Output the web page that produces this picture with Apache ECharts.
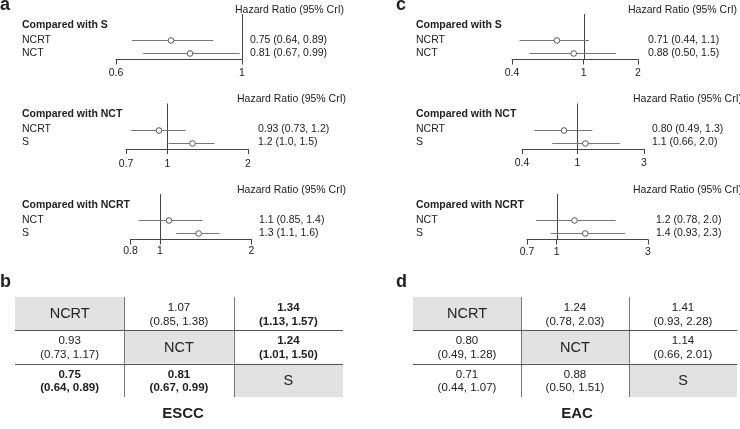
<!DOCTYPE html>
<html><head><meta charset="utf-8">
<script src="https://cdn.jsdelivr.net/npm/echarts@6/dist/echarts.min.js"></script>
<style>html,body{margin:0;padding:0;background:#fff}#c{width:740px;height:429px}</style>
</head><body><div id="c"></div>
<script>
// ---------- data ----------
const treatments = ['NCRT', 'NCT', 'S'];
// cell[ref][trt] = hazard ratio of trt compared with ref
const esccHR   = [[null, 1.07, 1.34], [0.93, null, 1.24], [0.75, 0.81, null]];
const esccLow  = [[null, 0.85, 1.13], [0.73, null, 1.01], [0.64, 0.67, null]];
const esccHigh = [[null, 1.38, 1.57], [1.17, null, 1.50], [0.89, 0.99, null]];
const eacHR    = [[null, 1.24, 1.41], [0.80, null, 1.14], [0.71, 0.88, null]];
const eacLow   = [[null, 0.78, 0.93], [0.49, null, 0.66], [0.44, 0.50, null]];
const eacHigh  = [[null, 2.03, 2.28], [1.28, null, 2.01], [1.07, 1.51, null]];
const references = ['S', 'NCT', 'NCRT'];
const esccTicks = [[0.6, 1], [0.7, 1, 2], [0.8, 1, 2]];
const eacTicks  = [[0.4, 1, 2], [0.4, 1, 3], [0.7, 1, 3]];
const axisTitle = 'Hazard Ratio (95% CrI)';
const tableTitles = ['ESCC', 'EAC'];
const panelLetters = [['a', 'b'], ['c', 'd']];

// ---------- layout ----------
const FONT = '"Liberation Sans", Arial, Helvetica, sans-serif';
const TXT = '#222';
const rowY = [40, 129.5, 220];
const ROW = 13;
const layouts = [
  { labelX: 22, letterX: 0, panels: [
      { l: 116, r: 242, val: 250, title: 235, lm: 8 },
      { l: 126, r: 248, val: 258, title: 237, lm: 10 },
      { l: 130.5, r: 251.5, val: 259, title: 237, lm: 6.5 }],
    table: { left: 15, width: 328, cx: 183 } },
  { labelX: 416, letterX: 396, panels: [
      { l: 512, r: 638, val: 648, title: 628, lm: 8 },
      { l: 522, r: 644, val: 652, title: 633, lm: 9 },
      { l: 527, r: 648, val: 656, title: 633, lm: 7 }],
    table: { left: 413, width: 324, cx: 577 } }
];
const sets = [
  { HR: esccHR, lo: esccLow, hi: esccHigh, ticks: esccTicks },
  { HR: eacHR, lo: eacLow, hi: eacHigh, ticks: eacTicks }
];

const p2 = v => v.toPrecision(2);
const option = { animation: false, textStyle: { fontFamily: FONT },
  grid: [], xAxis: [], yAxis: [], series: [], graphic: [] };

function txt(text, x, y, size, weight, align) {
  option.graphic.push({ type: 'text', silent: true, x: x, y: y,
    style: { text: text, fontSize: size, fontWeight: weight || 'normal', fontFamily: FONT,
      fill: TXT, align: align || 'left', verticalAlign: 'middle' } });
}

sets.forEach((d, di) => {
  const L = layouts[di];
  txt(panelLetters[di][0], L.letterX, 5, 18, 'bold');
  txt(panelLetters[di][1], L.letterX, 282, 18, 'bold');
  references.forEach((ref, pi) => {
    const P = L.panels[pi];
    const r1 = rowY[pi];
    const refIdx = treatments.indexOf(ref);
    const trts = treatments.filter(t => t !== ref);
    const rows = trts.map((t, ri) => {
      const j = treatments.indexOf(t);
      return [d.lo[refIdx][j], d.hi[refIdx][j], d.HR[refIdx][j], ri];
    });
    const ticks = d.ticks[pi];
    const g = option.grid.length;
    option.grid.push({ left: P.l, width: P.r - P.l, top: r1 - 2 * ROW, height: 3.5 * ROW,
      containLabel: false, outerBoundsMode: 'none' });
    option.xAxis.push({ type: 'log', gridIndex: g, position: 'bottom',
      min: ticks[0], max: ticks[ticks.length - 1],
      axisLine: { show: true, onZero: false, lineStyle: { color: '#444', width: 1 } },
      axisTick: { show: true, customValues: ticks, length: 5, lineStyle: { color: '#444' } },
      axisLabel: { show: true, customValues: ticks, margin: P.lm, fontSize: 10.5, color: TXT,
        fontFamily: FONT, formatter: v => String(+(+v).toPrecision(6)) },
      splitLine: { show: false }, minorTick: { show: false } });
    const yBase = { type: 'value', gridIndex: g, inverse: true, min: -2, max: 1.5, interval: 1,
      axisLine: { show: false }, axisTick: { show: false }, splitLine: { show: false } };
    const yl = option.yAxis.length;
    option.yAxis.push(Object.assign({}, yBase, { position: 'left',
      axisLabel: { align: 'left', margin: P.l - L.labelX, fontSize: 10.5, color: TXT, fontFamily: FONT,
        showMinLabel: true, showMaxLabel: true,
        formatter: v => (Number.isInteger(v) && v >= 0 && v < trts.length) ? trts[v] : '' } }));
    option.yAxis.push(Object.assign({}, yBase, { position: 'right',
      axisLabel: { align: 'left', margin: P.val - P.r, fontSize: 10.5, color: TXT, fontFamily: FONT,
        formatter: v => {
          if (!(Number.isInteger(v) && v >= 0 && v < rows.length)) return '';
          const r = rows[v];
          return p2(r[2]) + ' (' + p2(r[0]) + ', ' + p2(r[1]) + ')';
        } } }));
    option.series.push({ type: 'custom', xAxisIndex: g, yAxisIndex: yl, silent: true,
      data: rows, encode: { x: [0, 1, 2], y: 3 },
      renderItem: (params, api) => {
        const cs = params.coordSys;
        const lo = api.coord([api.value(0), api.value(3)]);
        const hi = api.coord([api.value(1), api.value(3)]);
        const est = api.coord([api.value(2), api.value(3)]);
        const y = Math.round(lo[1]) + 0.5;
        const ch = [];
        if (params.dataIndex === 0) {
          const x1 = Math.round(api.coord([1, 0])[0]) + 0.5;
          ch.push({ type: 'line', shape: { x1: x1, y1: cs.y, x2: x1, y2: cs.y + cs.height },
            style: { stroke: '#444', lineWidth: 1 } });
        }
        ch.push({ type: 'line', shape: { x1: lo[0], y1: y, x2: hi[0], y2: y },
          style: { stroke: '#777', lineWidth: 1 } });
        ch.push({ type: 'circle', shape: { cx: est[0], cy: y, r: 2.8 },
          style: { fill: '#fff', stroke: '#555', lineWidth: 1 } });
        return { type: 'group', children: ch };
      } });
    txt(axisTitle, P.title, r1 - 30, 10.5, 'normal');
    txt('Compared with ' + ref, L.labelX, r1 - 15, 10.5, 'bold');
  });

  // ---------- league table ----------
  const T = L.table;
  const g = option.grid.length;
  option.grid.push({ left: T.left, width: T.width, top: 297, height: 100,
    containLabel: false, outerBoundsMode: 'none' });
  option.xAxis.push({ type: 'category', gridIndex: g, data: treatments, show: false });
  const yi = option.yAxis.length;
  option.yAxis.push({ type: 'category', gridIndex: g, data: treatments, inverse: true, show: false });
  const cells = [];
  treatments.forEach((rowT, i) => treatments.forEach((colT, j) => cells.push([j, i])));
  option.series.push({ type: 'custom', xAxisIndex: g, yAxisIndex: yi, silent: true,
    data: cells, encode: { x: 0, y: 1 },
    renderItem: (params, api) => {
      const j = api.value(0), i = api.value(1);
      const c = api.coord([j, i]);
      const s = api.size([1, 1]);
      const x0 = c[0] - s[0] / 2, y0 = c[1] - s[1] / 2;
      const ch = [];
      if (i === j) {
        ch.push({ type: 'rect', shape: { x: x0, y: y0, width: s[0], height: s[1] },
          style: { fill: '#e2e2e2' } });
        ch.push({ type: 'text', style: { text: treatments[i], x: c[0], y: c[1] + 0.5,
          align: 'center', verticalAlign: 'middle', fontSize: 14.5, fontFamily: FONT, fill: TXT } });
      } else {
        const hr = d.HR[i][j], lo = d.lo[i][j], hi = d.hi[i][j];
        const sig = lo > 1 || hi < 1;
        ch.push({ type: 'text', style: {
          text: hr.toFixed(2) + '\n(' + lo.toFixed(2) + ', ' + hi.toFixed(2) + ')',
          x: c[0], y: c[1] + 1, align: 'center', verticalAlign: 'middle', lineHeight: 13.5,
          fontSize: 11.5, fontWeight: sig ? 'bold' : 'normal', fontFamily: FONT, fill: TXT } });
      }
      if (j > 0) {
        const xl = Math.round(x0) + 0.5;
        ch.push({ type: 'line', shape: { x1: xl, y1: y0, x2: xl, y2: y0 + s[1] },
          style: { stroke: '#777', lineWidth: 1 } });
      }
      if (i > 0) {
        const yt = Math.round(y0) + 0.5;
        ch.push({ type: 'line', shape: { x1: x0, y1: yt, x2: x0 + s[0], y2: yt },
          style: { stroke: '#555', lineWidth: 1 } });
      }
      return { type: 'group', children: ch };
    } });
  txt(tableTitles[di], T.cx, 414, 15, 'bold', 'center');
});

const chart = echarts.init(document.getElementById('c'), null, { renderer: 'canvas' });
chart.setOption(option);
</script>
</body></html>
